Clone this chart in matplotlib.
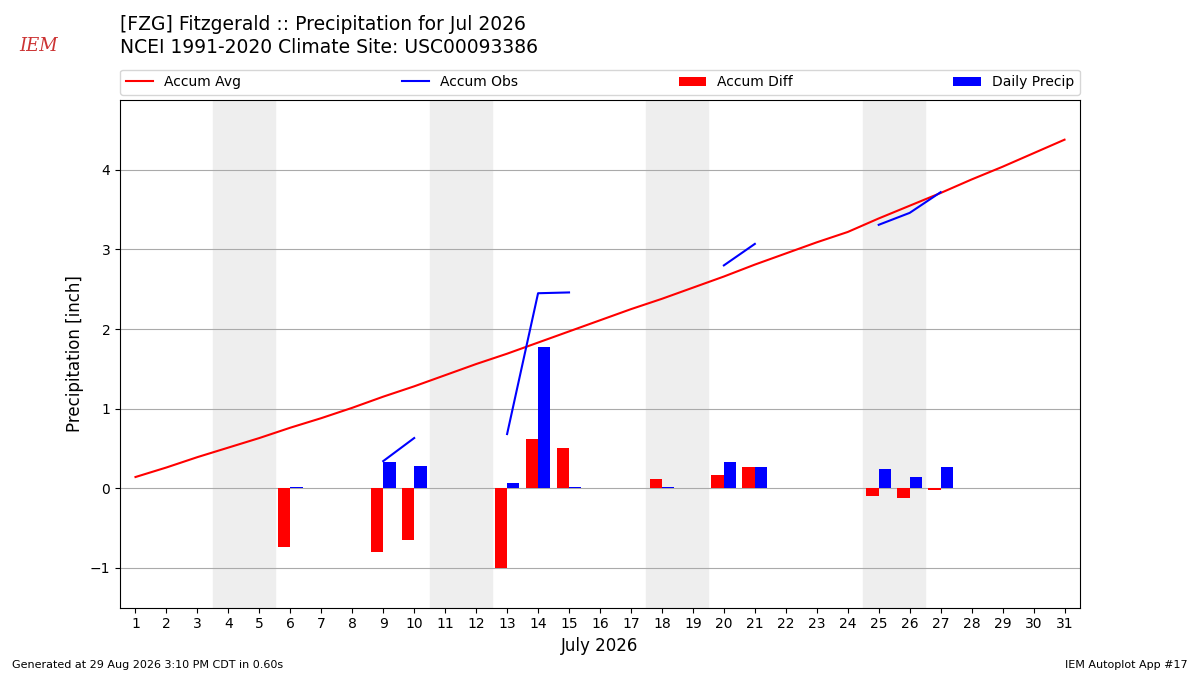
import numpy as np
import matplotlib
matplotlib.use("Agg")
import matplotlib.pyplot as plt

days = np.arange(1, 32)
accum_avg = [0.14, 0.26, 0.39, 0.51, 0.63, 0.76, 0.88, 1.01, 1.15, 1.28, 1.42,
             1.56, 1.69, 1.83, 1.97, 2.11, 2.25, 2.38, 2.52, 2.66, 2.81, 2.95,
             3.09, 3.22, 3.39, 3.55, 3.71, 3.88, 4.04, 4.21, 4.38]
nan = np.nan
accum_obs = [nan] * 31
for d, v in {9: 0.34, 10: 0.63, 13: 0.68, 14: 2.45, 15: 2.46,
             20: 2.80, 21: 3.07, 25: 3.31, 26: 3.46, 27: 3.72}.items():
    accum_obs[d - 1] = v
bar_days = [6, 9, 10, 13, 14, 15, 18, 20, 21, 25, 26, 27]
accum_diff = [-0.74, -0.80, -0.65, -1.0, 0.62, 0.51, 0.11, 0.16, 0.27, -0.10, -0.12, -0.02]
daily_precip = [0.01, 0.33, 0.28, 0.07, 1.78, 0.01, 0.01, 0.33, 0.27, 0.24, 0.14, 0.27]
weekends = [(3.5, 5.5), (10.5, 12.5), (17.5, 19.5), (24.5, 26.5)]

fig = plt.figure(figsize=(12, 6.75), dpi=100)
ax = fig.add_axes([0.1, 0.1, 0.8, 0.752])

for a, b in weekends:
    ax.axvspan(a, b, color="#eeeeee", zorder=0)

ax.plot(days, accum_avg, color="r", label="Accum Avg", zorder=3)
ax.plot(days, accum_obs, color="b", label="Accum Obs", zorder=3)
ax.bar(np.array(bar_days) - 0.4, accum_diff, width=0.4, align="edge",
       color="r", label="Accum Diff", zorder=2)
ax.bar(bar_days, daily_precip, width=0.4, align="edge",
       color="b", label="Daily Precip", zorder=2)

ax.set_xlim(0.5, 31.5)
ax.set_ylim(-1.5, 4.88)
ax.set_xticks(days)
ax.set_yticks([-1, 0, 1, 2, 3, 4])
ax.yaxis.grid(True, color="#aaaaaa")
ax.set_axisbelow(True)
ax.set_xlabel("July 2026", fontsize=12)
ax.set_ylabel("Precipitation [inch]", fontsize=12)
ax.legend(bbox_to_anchor=(0, 1.01, 1, 0.102), loc="lower left", ncol=4,
          mode="expand", borderaxespad=0, fontsize=10)

fig.text(0.1, 0.978, "[FZG] Fitzgerald :: Precipitation for Jul 2026",
         fontsize=13.5, va="top")
fig.text(0.1, 0.944, "NCEI 1991-2020 Climate Site: USC00093386",
         fontsize=13.5, va="top")
fig.text(0.01, 0.01, "Generated at 29 Aug 2026 3:10 PM CDT in 0.60s", fontsize=8)
fig.text(0.99, 0.01, "IEM Autoplot App #17", fontsize=8, ha="right")
fig.text(0.032, 0.925, "IEM", fontsize=13, color="#cc3333", style="italic",
         family="serif", ha="center")

fig.savefig("out.png")
